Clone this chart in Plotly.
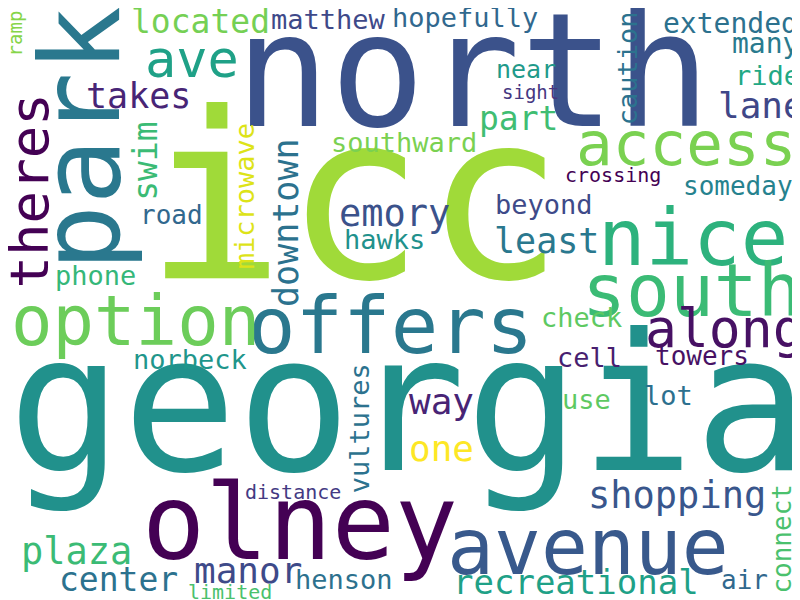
import plotly.graph_objects as go

# word, font size (relative frequency scale), colour
words = ["icc","north","georgia","park","theres","access","nice","south","offers","option",
         "along","olney","avenue","ave","located","matthew","hopefully","caution","extended","many",
         "ride","lane","near","part","sight","southward","crossing","someday","beyond","least",
         "emory","hawks","downtown","microwave","swim","takes","road","phone","ramp","norbeck",
         "vultures","distance","plaza","center","manor","henson","limited","check","cell","towers",
         "way","use","lot","one","shopping","connect","recreational","air"]
sizes = [232,158,190,110,54,61,79,73,79,69,
         53,105,78,52,33,27,27,27,28,28,
         27,36,25,33,19,27,20,26,27,35,
         37,27,35,27,33,35,26,27,19,27,
         27,20,37,33,36,27,20,27,27,26,
         36,27,27,36,37,26,34,26]
colors = ["#a0da39","#3b528b","#21918c","#2a788e","#440154","#7ad151","#2db27d","#3bbb75","#2a788e","#6ccd5a",
          "#471164","#440154","#38598c","#1fa187","#75d054","#3e4989","#31688e","#2c728e","#2c718e","#297a8e",
          "#22a884","#3f4788","#1f9a8a","#40bd72","#453781","#7ad151","#440154","#26828e","#3e4a89","#2a788e",
          "#3b528b","#21918c","#2c728e","#dde318","#3bbb75","#482576","#31688e","#35b779","#86d549","#1f968b",
          "#2c728e","#443a83","#3bbb75","#2c728e","#3e4a89","#2d718e","#4ac16d","#5ec962","#481f70","#471164",
          "#482475","#5ec962","#2d708e","#fde725","#39568c","#4ac16d","#1fa187","#31688e"]
# layout of the cloud: (x, baseline, rotated)
placement = [(346,283,0),(465,126,0),(400,472,0),(117,131,1),(43,183,1),(678,160,0),(685,262,0),(684,312,0),(382,350,0),(127,341,0),
             (717,342,0),(292,557,0),(580,570,0),(184,72,0),(192,27,0),(320,22,0),(457,20,0),(630,60,1),(722,27,0),(757,47,0),
             (759,78,0),(753,112,0),(518,71,0),(510,124,0),(522,92,0),(396,145,0),(605,175,0),(730,188,0),(536,207,0),(538,247,0),
             (386,220,0),(376,242,0),(292,215,1),(247,188,1),(150,153,1),(130,102,0),(163,217,0),(87,278,0),(15,25,1),(182,362,0),
             (362,420,1),(285,492,0),(68,558,0),(110,585,0),(240,577,0),(336,582,0),(222,592,0),(573,320,0),(581,360,0),(694,358,0),
             (433,408,0),(578,402,0),(660,398,0),(433,455,0),(669,502,0),(784,531,1),(568,588,0),(736,582,0)]

fig = go.Figure()
ann = []
for w, s, c, (x, b, r) in zip(words, sizes, colors, placement):
    off = 0.40 * s
    if r:
        ax, ay, ang = x - off, b, -90
    else:
        ax, ay, ang = x, b - off, 0
    ann.append(dict(x=ax, y=ay, xref="x", yref="y", text=w, showarrow=False, textangle=ang,
                    xanchor="center", yanchor="middle",
                    font=dict(family="DejaVu Sans Mono", size=s, color=c)))
fig.update_layout(annotations=ann, width=800, height=600, margin=dict(l=0, r=0, t=0, b=0),
                  plot_bgcolor="white", paper_bgcolor="white", showlegend=False,
                  xaxis=dict(range=[0, 800], visible=False),
                  yaxis=dict(range=[600, 0], visible=False))
fig.write_html("out.html")
